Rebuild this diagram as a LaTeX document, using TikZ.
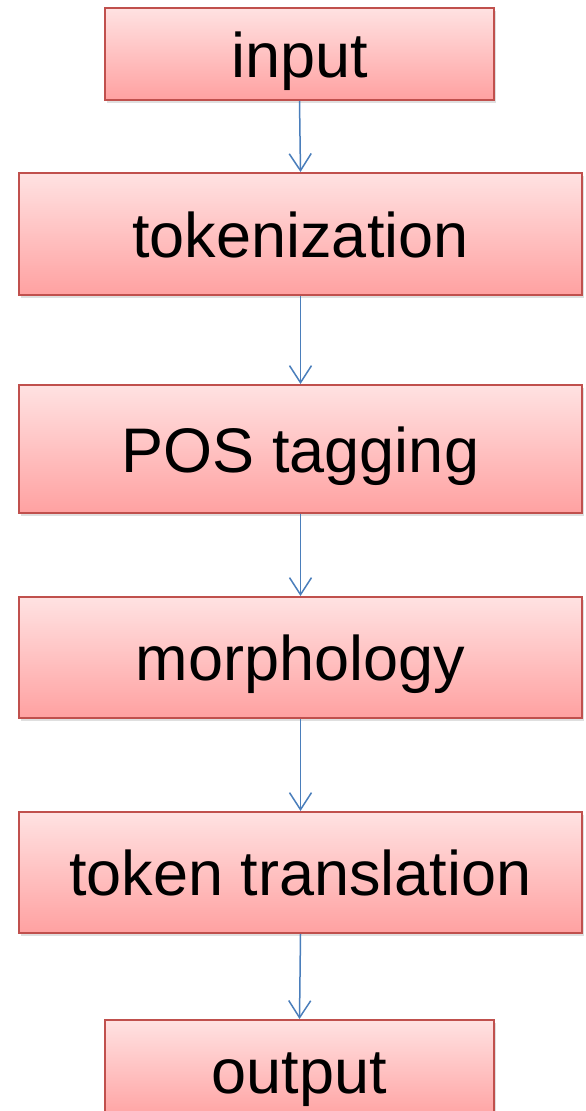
\documentclass[tikz,border=0pt]{standalone}
\usepackage{fontspec}
\setmainfont{Liberation Sans}
\usetikzlibrary{arrows.meta,shadows}
\definecolor{box_edge}{HTML}{C0504D}
\definecolor{box_top}{HTML}{FFE2E2}
\definecolor{box_bottom}{HTML}{FFA1A1}
\definecolor{flow_blue}{HTML}{4A7EBB}
\tikzset{
    step_box/.style = {
        draw=box_edge,
        line width=2pt,
        top color=box_top,
        bottom color=box_bottom,
        inner sep=0pt,
        text height=58pt,
        text depth=12pt,
        font=\fontsize{63}{72}\selectfont,
        drop shadow={shadow xshift=1.5pt, shadow yshift=-3pt, opacity=0.25}
    },
    flow_line/.style = {
        draw=flow_blue,
        line width=1.5pt,
        -{Straight Barb[length=17pt,width=22pt,line width=1.5pt]}
    },
}
\begin{document}
\begin{tikzpicture}[x=1pt, y=-1pt]
    \useasboundingbox (0, 0) rectangle (586, 1111);
    \clip (0, 0) rectangle (586, 1111);

    \node[step_box, minimum width=389pt, minimum height=92pt] (input) at (299.5, 54) {input};
    \node[step_box, minimum width=563pt, minimum height=122pt] (tokenization) at (300.5, 234) {tokenization};
    \node[step_box, minimum width=563pt, minimum height=128pt] (pos_tagging) at (300.5, 449) {POS tagging};
    \node[step_box, minimum width=563pt, minimum height=121pt] (morphology) at (300.5, 657.5) {morphology};
    \node[step_box, minimum width=563pt, minimum height=121pt] (token_translation) at (300.5, 872.5) {token translation};
    \node[step_box, minimum width=389pt, minimum height=100pt] (output) at (299.5, 1070) {output};

    \draw[flow_line] (input.south) -- (tokenization.north);
    \draw[flow_line] (tokenization.south) -- (pos_tagging.north);
    \draw[flow_line] (pos_tagging.south) -- (morphology.north);
    \draw[flow_line] (morphology.south) -- (token_translation.north);
    \draw[flow_line] (token_translation.south) -- (output.north);
\end{tikzpicture}
\end{document}
